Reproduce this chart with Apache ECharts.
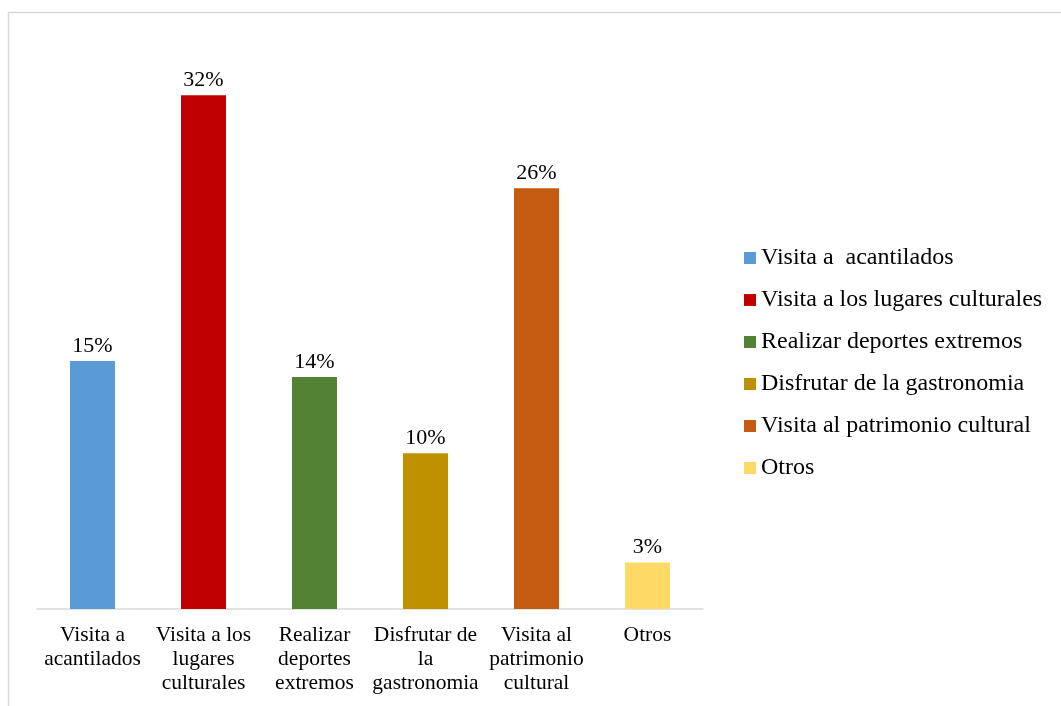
<!DOCTYPE html>
<html>
<head>
<meta charset="utf-8">
<script src="https://cdn.jsdelivr.net/npm/echarts@6/dist/echarts.min.js"></script>
<style>
  html, body { margin: 0; padding: 0; background: #fff; }
  #chart { width: 1061px; height: 706px; }
</style>
</head>
<body>
<div id="chart"></div>
<script>
  // categories (axis labels, wrapped like the original)
  var xLabels = ['Visita a\nacantilados', 'Visita a los\nlugares\nculturales', 'Realizar\ndeportes\nextremos',
    'Disfrutar de\nla\ngastronomia', 'Visita al\npatrimonio\ncultural', 'Otros']
  // legend names
  var seriesNames = ['Visita a  acantilados', 'Visita a los lugares culturales', 'Realizar deportes extremos',
    'Disfrutar de la gastronomia', 'Visita al patrimonio cultural', 'Otros']
  // percentages (labels are rounded)
  var values = [15.45, 32, 14.45, 9.7, 26.2, 2.9]
  var colors = ['#5B9BD5', '#C00000', '#548235', '#BF9000', '#C55A11', '#FFD966']

  var font = 'Liberation Serif'
  var chart = echarts.init(document.getElementById('chart'))

  var series = []
  for (var i = 0; i < values.length; i++) {
    var d = values.map(function (v, j) { return j === i ? v : '-' }) // 每个系列只占一个类目
    series.push({
      name: seriesNames[i],
      type: 'bar',
      stack: 'all',
      barWidth: 45,
      data: d,
      itemStyle: { color: colors[i] },
      label: {
        show: true,
        position: 'top',
        distance: 4,
        color: '#000',
        fontFamily: font,
        fontSize: 22,
        formatter: function (p) { return Math.round(p.value) + '%' }
      }
    })
  }

  chart.setOption({
    animation: false,
    backgroundColor: '#fff',
    graphic: [{
      type: 'rect',
      shape: { x: 8.5, y: 12.5, width: 1100, height: 800 },
      style: { fill: 'none', stroke: '#d9d9d9', lineWidth: 1.5 },
      silent: true
    }],
    legend: {
      orient: 'vertical',
      left: 739,
      top: 241,
      itemWidth: 12,
      itemHeight: 12,
      itemGap: 18,
      icon: 'rect',
      textStyle: { fontFamily: font, fontSize: 24, color: '#000', lineHeight: 24 },
      data: seriesNames
    },
    grid: { left: 37, right: 358, top: 47, bottom: 97, containLabel: false },
    xAxis: {
      type: 'category',
      data: xLabels,
      axisTick: { show: false },
      axisLine: { lineStyle: { color: '#d9d9d9', width: 1.5 } },
      axisLabel: {
        interval: 0,
        margin: 14,
        color: '#000',
        fontFamily: font,
        fontSize: 21.5,
        lineHeight: 24
      }
    },
    yAxis: {
      type: 'value',
      min: 0,
      max: 35,
      show: false,
      splitLine: { show: false }
    },
    series: series
  })
</script>
</body>
</html>
